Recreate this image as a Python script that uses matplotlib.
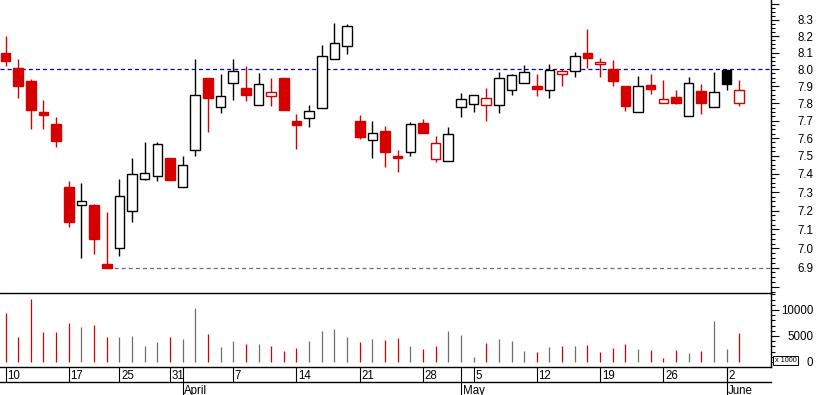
import numpy as np
import pandas as pd
import matplotlib
matplotlib.use("Agg")
import matplotlib.pyplot as plt
from matplotlib.patches import Rectangle
from matplotlib.ticker import FixedLocator, FixedFormatter, NullFormatter
import matplotlib.transforms as mtransforms

plt.rcParams['font.family'] = ['Liberation Sans', 'DejaVu Sans']
plt.rcParams['lines.scale_dashes'] = False

# ---------------- data ----------------
HOLIDAYS = ['2008-03-21', '2008-03-24', '2008-05-01']
START, END = '2008-03-10', '2008-06-03'

OPEN = [8.10, 8.01, 7.93, 7.75, 7.68, 7.33, 7.23, 7.23, 6.92, 7.00,
        7.20, 7.37, 7.39, 7.49, 7.33, 7.53, 7.95, 7.78, 7.92, 7.89,
        7.79, 7.84, 7.95, 7.695, 7.713, 7.77, 8.06, 8.14, 7.695, 7.59,
        7.64, 7.50, 7.52, 7.685, 7.48, 7.47, 7.78, 7.793, 7.79, 7.79,
        7.88, 7.917, 7.90, 7.88, 7.972, 7.99, 8.10, 8.03, 8.00, 7.90,
        7.75, 7.905, 7.80, 7.835, 7.725, 7.87, 7.776, 7.996, 7.80]
HIGH = [8.20, 8.06, 7.94, 7.82, 7.72, 7.36, 7.35, 7.235, 7.19, 7.37,
        7.49, 7.58, 7.58, 7.49, 7.50, 8.06, 7.95, 7.97, 8.06, 8.02,
        7.98, 7.95, 7.95, 7.74, 7.787, 8.145, 8.28, 8.275, 7.73, 7.695,
        7.67, 7.535, 7.69, 7.71, 7.61, 7.66, 7.86, 7.846, 7.89, 7.985,
        7.97, 8.026, 7.97, 8.03, 8.00, 8.105, 8.245, 8.066, 8.055, 7.90,
        7.96, 7.97, 7.937, 7.88, 7.952, 7.913, 7.984, 7.996, 7.937]
LOW = [8.02, 7.83, 7.65, 7.65, 7.55, 7.11, 6.95, 6.97, 6.90, 6.96,
       7.14, 7.365, 7.36, 7.365, 7.325, 7.50, 7.635, 7.745, 7.82, 7.81,
       7.79, 7.785, 7.76, 7.54, 7.66, 7.77, 8.06, 8.09, 7.595, 7.485,
       7.435, 7.41, 7.50, 7.628, 7.465, 7.47, 7.72, 7.75, 7.70, 7.745,
       7.85, 7.917, 7.84, 7.83, 7.90, 7.955, 8.01, 7.956, 7.90, 7.755,
       7.75, 7.855, 7.80, 7.797, 7.725, 7.74, 7.776, 7.88, 7.785]
CLOSE = [8.05, 7.90, 7.76, 7.73, 7.585, 7.14, 7.25, 7.05, 6.90, 7.28,
         7.40, 7.405, 7.565, 7.365, 7.45, 7.85, 7.83, 7.84, 7.99, 7.85,
         7.91, 7.865, 7.76, 7.675, 7.753, 8.08, 8.16, 8.26, 7.605, 7.63,
         7.52, 7.485, 7.68, 7.628, 7.57, 7.625, 7.825, 7.846, 7.83, 7.95,
         7.965, 7.982, 7.885, 7.995, 7.99, 8.08, 8.065, 8.044, 7.932, 7.785,
         7.90, 7.885, 7.825, 7.803, 7.917, 7.80, 7.864, 7.915, 7.88]
VOLUME = [9400, 4800, 12100, 5800, 5800, 7500, 6700, 7100, 4800, 4800,
          5000, 3100, 3800, 4800, 4400, 10400, 5400, 2900, 4000, 3500,
          3500, 3100, 2100, 2700, 4000, 6000, 6300, 4800, 3800, 4400,
          4200, 4600, 3100, 2500, 3100, 6000, 5200, 1000, 3700, 4400,
          4000, 2100, 1900, 2900, 3100, 3100, 3300, 1900, 2700, 3500,
          2500, 2300, 800, 2300, 1700, 2100, 7900, 2500, 5600]
PREV_CLOSE = 8.15
REF_LEVEL = 8.0
PRICE_TICKS = [6.8, 6.9, 7.0, 7.1, 7.2, 7.3, 7.4, 7.5, 7.6, 7.7, 7.8, 7.9, 8.0, 8.1, 8.2, 8.3, 8.4]
PRICE_LABELS = ['', '6.9', '7.0', '7.1', '7.2', '7.3', '7.4', '7.5', '7.6', '7.7',
                '7.8', '7.9', '8.0', '8.1', '8.2', '8.3', '']
VOL_TICKS = [0, 5000, 10000]
VOL_LABELS = ['0', '5000', '10000']
VOL_UNIT = 'x 1000'

dates = [d for d in pd.bdate_range(START, END) if d.strftime('%Y-%m-%d') not in HOLIDAYS]

# ---------------- styling ----------------
RED = '#D60000'
BLACK = '#000000'
GRAY = '#6E6E6E'
BLUE = '#0000C8'

W, H = 817, 395
fig = plt.figure(figsize=(W / 100, H / 100), dpi=100)
RIGHT = 771
Y_SEP, Y_VB, Y_DL = 293.3, 367, 382

ax_p = fig.add_axes([0, (H - Y_SEP) / H, RIGHT / W, Y_SEP / H])
ax_v = fig.add_axes([0, (H - Y_VB) / H, RIGHT / W, (Y_VB - Y_SEP) / H])
ax_d = fig.add_axes([0, 0, RIGHT / W, (H - Y_VB) / H])

n = len(CLOSE)
x = np.arange(n)
XL = (-0.435, 60.51)
o = np.array(OPEN); h = np.array(HIGH); l = np.array(LOW); c = np.array(CLOSE)
prev = np.concatenate([[PREV_CLOSE], c[:-1]])
down_day = c < prev

# ---------------- price panel ----------------
ax_p.set_yscale('log')
ax_p.set_xlim(*XL)
ax_p.set_ylim(6.769, 8.424)
bw = 0.76
for i in range(n):
    col = RED if down_day[i] else BLACK
    ax_p.vlines(x[i], l[i], h[i], color=col, lw=1.0, zorder=2)
    lo, hi = min(o[i], c[i]), max(o[i], c[i])
    if hi - lo < 0.004:
        hi = lo + 0.004
    hollow = c[i] > o[i]
    ax_p.add_patch(Rectangle((x[i] - bw / 2, lo), bw, hi - lo,
                             facecolor='white' if hollow else col,
                             edgecolor=col, lw=1.0, zorder=3))

ax_p.axhline(REF_LEVEL, color=BLUE, lw=0.9, ls=(0, (2.9, 2.2)), zorder=1)
imin = int(np.argmin(l))
ax_p.plot([x[imin], XL[1]], [l[imin], l[imin]], color=GRAY, lw=0.9,
          ls=(0, (2.9, 2.2)), zorder=1)

ax_p.yaxis.tick_right()
ax_p.yaxis.set_major_locator(FixedLocator(PRICE_TICKS))
ax_p.yaxis.set_major_formatter(FixedFormatter(PRICE_LABELS))
minors = [round(v, 3) for v in np.arange(6.775, 8.42, 0.025)]
minors = [v for v in minors if min(abs(v - t) for t in PRICE_TICKS) > 0.01]
ax_p.yaxis.set_minor_locator(FixedLocator(minors))
ax_p.yaxis.set_minor_formatter(NullFormatter())
ax_p.tick_params(axis='y', which='major', length=5.8, width=0.8, pad=24.5, labelsize=8.3)
ax_p.tick_params(axis='y', which='minor', length=3.0, width=0.8)
for lab in ax_p.get_yticklabels():
    lab.set_horizontalalignment('right')
ax_p.set_xticks([])
for s in ['left', 'top', 'bottom']:
    ax_p.spines[s].set_visible(False)
ax_p.spines['right'].set_linewidth(1.0)

# ---------------- volume panel ----------------
ax_v.set_xlim(*XL)
ax_v.set_ylim(-962, 13211)
vcols = [RED if d else GRAY for d in down_day]
ax_v.vlines(x, 0, VOLUME, colors=vcols, lw=0.9)
ax_v.yaxis.tick_right()
ax_v.yaxis.set_major_locator(FixedLocator(VOL_TICKS))
ax_v.yaxis.set_major_formatter(FixedFormatter(VOL_LABELS))
ax_v.yaxis.set_minor_locator(FixedLocator([v for v in range(1000, 13001, 1000) if v % 5000]))
ax_v.tick_params(axis='y', which='major', length=5.8, width=0.8, pad=24.5, labelsize=8.3)
ax_v.tick_params(axis='y', which='minor', length=3.0, width=0.8)
for lab in ax_v.get_yticklabels():
    lab.set_horizontalalignment('right')
ax_v.set_xticks([])
ax_v.spines['left'].set_visible(False)
for s in ['top', 'bottom', 'right']:
    ax_v.spines[s].set_linewidth(1.0)
unit_tr = mtransforms.offset_copy(ax_v.transAxes, fig=fig, x=14.5, y=6.5, units='dots')
ax_v.text(1.0, 0.0, VOL_UNIT, transform=unit_tr, fontsize=5.2, ha='center', va='center',
          bbox=dict(boxstyle='square,pad=0.2', fc='white', ec='black', lw=0.7),
          clip_on=False, zorder=5)

# ---------------- date axis ----------------
ax_d.set_xlim(*XL)
ax_d.set_ylim(H, Y_VB)
ax_d.axis('off')
ax_d.plot(XL, [Y_DL, Y_DL], color='black', lw=1.0, clip_on=False)
toff = mtransforms.offset_copy(ax_d.transData, fig=fig, x=1.6, y=0, units='dots')
for i, d in enumerate(dates):
    new_week = i == 0 or d.isocalendar()[1] != dates[i - 1].isocalendar()[1]
    new_month = i > 0 and d.month != dates[i - 1].month
    if new_week:
        ax_d.vlines(i, Y_VB, Y_DL, color='black', lw=0.8)
        ax_d.text(i, 376, str(d.day), transform=toff, fontsize=8.3, ha='left', va='center')
    if new_month:
        ax_d.vlines(i, Y_VB, H, color='black', lw=0.8)
        ax_d.text(i, 393.5, d.strftime('%B'), transform=toff, fontsize=8.3, ha='left', va='baseline')

fig.savefig('out.png', dpi=100)
